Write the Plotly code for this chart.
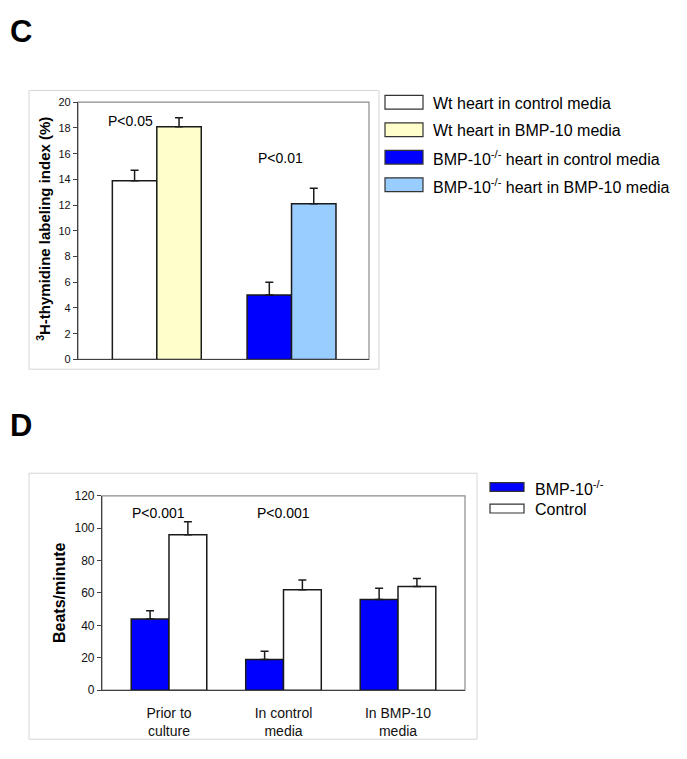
import plotly.graph_objects as go

W, H = 687, 759
FONT = "Arial, Liberation Sans, sans-serif"

# ---------------- Data ----------------
# Panel C
c_series = ["Wt heart in control media", "Wt heart in BMP-10 media",
            "BMP-10<sup>-/-</sup> heart in control media",
            "BMP-10<sup>-/-</sup> heart in BMP-10 media"]
c_group = [0, 0, 1, 1]          # group index (Wt, BMP-10-/-)
c_slot = ["L", "R", "L", "R"]
c_values = [13.9, 18.1, 5.0, 12.1]
c_errors = [0.8, 0.7, 1.0, 1.2]
c_colors = ["#ffffff", "#ffffcc", "#0000ff", "#99ccff"]
c_pvalues = ["P<0.05", "P<0.01"]

# Panel D
d_categories = ["Prior to<br>culture", "In control<br>media", "In BMP-10<br>media"]
d_series = ["BMP-10<sup>-/-</sup>", "Control"]
d_bmp = [44, 19, 56]
d_bmp_err = [5, 5, 7]
d_ctrl = [96, 62, 64]
d_ctrl_err = [8, 6, 5]
d_colors = ["#0000ff", "#ffffff"]
d_pvalues = ["P<0.001", "P<0.001"]


def px(x):
    return x / W


def py(y):
    return 1 - y / H


fig = go.Figure()

# Panel C bars
for i in range(4):
    fig.add_trace(go.Bar(
        x=[c_group[i]], y=[c_values[i]], name=c_series[i],
        offsetgroup=c_slot[i], xaxis="x", yaxis="y",
        marker=dict(color=c_colors[i], line=dict(color="#1a1a1a", width=1.5)),
        error_y=dict(type="data", array=[c_errors[i]], arrayminus=[0],
                     symmetric=False, color="#1a1a1a", thickness=1.5, width=4),
        showlegend=False,
    ))

# Panel D bars
d_vals = [d_bmp, d_ctrl]
d_errs = [d_bmp_err, d_ctrl_err]
for i in range(2):
    fig.add_trace(go.Bar(
        x=list(range(len(d_categories))), y=d_vals[i], name=d_series[i],
        offsetgroup=["L", "R"][i], xaxis="x2", yaxis="y2",
        marker=dict(color=d_colors[i], line=dict(color="#1a1a1a", width=1.5)),
        error_y=dict(type="data", array=d_errs[i], arrayminus=[0] * 3,
                     symmetric=False, color="#1a1a1a", thickness=1.5, width=4),
        showlegend=False,
    ))

# Plot area geometry (pixels)
C_L, C_R, C_T, C_B = 78, 369, 97, 359
D_L, D_R, D_T, D_B = 102, 465, 498, 696

axis_common = dict(showgrid=False, zeroline=False, showline=True,
                   linecolor="#404040", linewidth=1.2)

fig.update_layout(
    width=W, height=H,
    margin=dict(l=0, r=0, t=0, b=0),
    paper_bgcolor="white", plot_bgcolor="white",
    font=dict(family=FONT, color="#111111"),
    barmode="group", bargap=0.34, bargroupgap=0,
    xaxis=dict(domain=[px(C_L), px(C_R)], range=[-0.585, 1.575],
               showticklabels=False, ticks="", anchor="y", **axis_common),
    yaxis=dict(domain=[py(C_B), py(C_T)], range=[0, 20], dtick=2,
               ticks="outside", ticklen=4, tickcolor="#404040",
               tickfont=dict(size=11, family=FONT), anchor="x", **axis_common),
    xaxis2=dict(domain=[px(D_L), px(D_R)], range=[-0.585, 2.585],
                tickvals=list(range(len(d_categories))), ticktext=d_categories,
                ticks="", tickfont=dict(size=14, family=FONT), ticklabelstandoff=10,
                anchor="y2", **axis_common),
    yaxis2=dict(domain=[py(D_B), py(D_T)], range=[0, 120], dtick=20,
                ticks="outside", ticklen=4, tickcolor="#404040",
                tickfont=dict(size=12, family=FONT), anchor="x2", **axis_common),
)

shapes = []
# Outer frames
shapes.append(dict(type="rect", xref="paper", yref="paper",
                   x0=px(29), x1=px(379), y0=py(369), y1=py(85),
                   line=dict(color="#d6d6d6", width=1)))
shapes.append(dict(type="rect", xref="paper", yref="paper",
                   x0=px(29), x1=px(477), y0=py(746), y1=py(475),
                   line=dict(color="#d6d6d6", width=1)))
# Plot area borders (top/right gray)
for (l, r, t, b) in [(C_L, C_R, C_T, C_B), (D_L, D_R, D_T, D_B)]:
    shapes.append(dict(type="rect", xref="paper", yref="paper",
                       x0=px(l), x1=px(r), y0=py(b), y1=py(t),
                       line=dict(color="#8c8c8c", width=1.2), layer="below"))

# Legend C
c_rows = [97, 125, 153, 181]
for i, yc in enumerate(c_rows):
    shapes.append(dict(type="rect", xref="paper", yref="paper",
                       x0=px(385), x1=px(423), y0=py(yc + 7), y1=py(yc - 7),
                       fillcolor=c_colors[i], line=dict(color="#333333", width=1.2)))
# Legend D
d_rows = [489, 511]
for i, yc in enumerate(d_rows):
    shapes.append(dict(type="rect", xref="paper", yref="paper",
                       x0=px(490), x1=px(524), y0=py(yc + 4.5), y1=py(yc - 4.5),
                       fillcolor=d_colors[i], line=dict(color="#333333", width=1.2)))
fig.update_layout(shapes=shapes)


def note(text, x, y, size, bold=False, xanchor="center", angle=0):
    return dict(text=f"<b>{text}</b>" if bold else text,
                x=px(x), y=py(y), xref="paper", yref="paper",
                xanchor=xanchor, yanchor="middle", showarrow=False,
                textangle=angle, font=dict(size=size, family=FONT, color="black"))


ann = [
    note("C", 8, 25, 31, bold=True, xanchor="left"),
    note("D", 8, 426, 31, bold=True, xanchor="left"),
    note("<sup>3</sup>H-thymidine labeling index (%)", 44, 226, 15, bold=True, angle=-90),
    note("Beats/minute", 60, 597, 16, bold=True, angle=-90),
    note(c_pvalues[0], 130, 116, 14),
    note(c_pvalues[1], 280, 154, 14),
    note(d_pvalues[0], 158, 515, 14),
    note(d_pvalues[1], 283, 515, 14),
]
for i, yc in enumerate(c_rows):
    ann.append(note(c_series[i], 431, yc + 1, 16, xanchor="left"))
for i, yc in enumerate(d_rows):
    ann.append(note(d_series[i], 533, yc + 1, 16, xanchor="left"))
fig.update_layout(annotations=ann)

fig.write_html(
    "out.html",
    config={"displayModeBar": False},
    post_script="document.body.style.margin='0';"
                "document.body.style.overflow='hidden';"
                "document.documentElement.style.overflow='hidden';",
)
